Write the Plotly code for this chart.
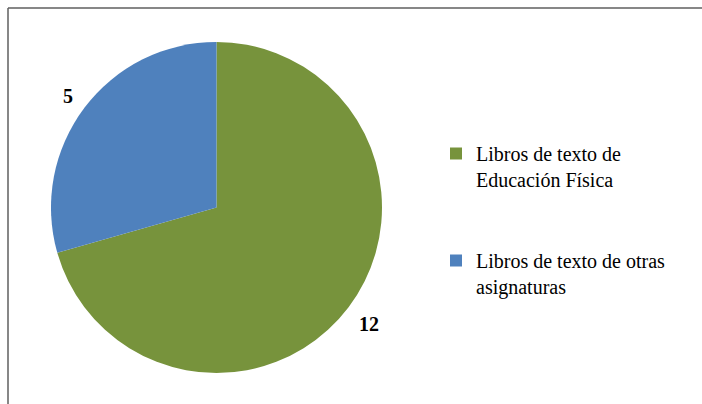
import numpy as np
import plotly.graph_objects as go

labels = ["Libros de texto de<br>Educación Física", "Libros de texto de otras<br>asignaturas"]
values = [12, 5]
colors = ["#77933C", "#4F81BD"]

W, H = 702, 404
SERIF = "Liberation Serif, Times New Roman, serif"
# pie geometry (pixels)
px0, px1 = 51, 382
py0, py1 = 42, 373
cxp, cyp = (px0 + px1) / 2, (py0 + py1) / 2
r = (px1 - px0) / 2

legend_labels = [labels[0] + "<br> <br> ", labels[1]]

fig = go.Figure(go.Pie(
    labels=legend_labels,
    values=values,
    marker=dict(colors=colors, line=dict(width=0)),
    sort=False,
    direction="clockwise",
    rotation=0,
    textinfo="none",
    hoverinfo="label+value",
    domain=dict(x=[px0 / W, px1 / W], y=[1 - py1 / H, 1 - py0 / H]),
))

# value labels outside each slice (distance grows with label width)
total = sum(values)
cum = np.cumsum([0] + values)
annotations = []
for i, v in enumerate(values):
    mid = (cum[i] + v / 2) / total * 2 * np.pi
    dist = r + 16 + 5 * len(str(v))
    x = cxp + dist * np.sin(mid)
    y = cyp - dist * np.cos(mid) + 1
    annotations.append(dict(
        x=x / W, y=1 - y / H, xref="paper", yref="paper",
        text=f"<b>{v}</b>", showarrow=False,
        font=dict(family=SERIF, size=20, color="#000000"),
        xanchor="center", yanchor="middle",
    ))

fig.update_layout(
    width=W, height=H,
    margin=dict(l=0, r=0, t=0, b=0),
    paper_bgcolor="white",
    plot_bgcolor="white",
    font=dict(family=SERIF, size=20, color="#000000"),
    showlegend=True,
    legend=dict(
        x=436 / W, y=1 - 134 / H, xanchor="left", yanchor="top",
        font=dict(family=SERIF, size=20, color="#000000"),
        valign="top",
        bgcolor="rgba(0,0,0,0)",
    ),
    annotations=annotations,
    shapes=[
        dict(type="line", xref="paper", yref="paper", x0=8 / W, x1=1, y0=1 - 8 / H, y1=1 - 8 / H,
             line=dict(color="#5f5f5f", width=1.5)),
        dict(type="line", xref="paper", yref="paper", x0=8 / W, x1=8 / W, y0=0, y1=1 - 8 / H,
             line=dict(color="#5f5f5f", width=1.5)),
    ],
)

fig.write_html("out.html", config={"displayModeBar": False},
               post_script="document.body.style.margin='0';")
